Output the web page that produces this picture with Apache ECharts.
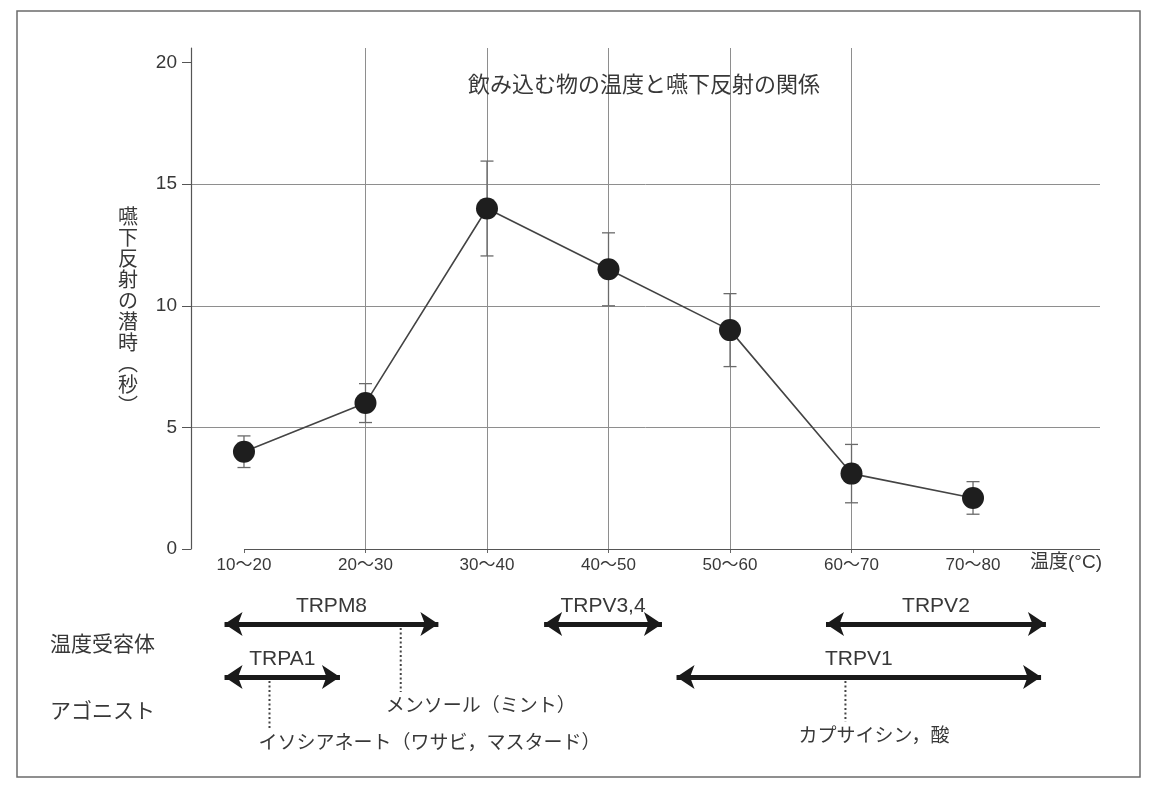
<!DOCTYPE html>
<html>
<head>
<meta charset="utf-8">
<script src="https://cdn.jsdelivr.net/npm/echarts@6/dist/echarts.min.js"></script>
<style>
  html, body { margin: 0; padding: 0; background: #fff; }
  #chart { width: 1154px; height: 786px; }
</style>
</head>
<body>
<div id="chart"></div>
<script>
// Temperature bands of the swallowed liquid (°C) and their mid-points
const tempBands = ['10〜20', '20〜30', '30〜40', '40〜50', '50〜60', '60〜70', '70〜80'];
const bandMid = [15, 25, 35, 45, 55, 65, 75];

// Latency of the swallowing reflex (s): mean and error
const latency = [4.0, 6.0, 14.0, 11.5, 9.0, 3.1, 2.1];
const latencyErr = [0.65, 0.8, 1.95, 1.5, 1.5, 1.2, 0.67];

// Latency axis ticks
const yTicks = [0, 5, 10, 15, 20];

// Thermo-sensitive TRP channels: activation range (°C) and drawing row
const receptorNames = ['TRPM8', 'TRPV3,4', 'TRPV2', 'TRPA1', 'TRPV1'];
const receptorLow = [13.4, 39.7, 62.9, 13.4, 50.6];
const receptorHigh = [31.0, 49.4, 81.0, 22.9, 80.6];
const receptorRow = [0, 0, 0, 1, 1];

// Agonists and the channel each one points to
const agonistNames = ['メンソール（ミント）', 'イソシアネート（ワサビ，マスタード）', 'カプサイシン，酸'];
const agonistTemp = [27.9, 17.1, 64.5];
const agonistReceptor = ['TRPM8', 'TRPA1', 'TRPV1'];

// Placement of the agonist captions (row in the lower panel, px shift of the text start)
const agonistCaptionRow = [2.03, 2.73, 2.59];
const agonistCaptionShift = [-15, -11, -47];

const FONT = '"Liberation Sans", "Noto Sans CJK JP", sans-serif';
const CJK = '"Noto Sans CJK JP", sans-serif';
const INK = '#383838';
const GRID = '#8e8e8e';
const X_MIN = 10.64, X_MAX = 85.45;

const chart = echarts.init(document.getElementById('chart'), null, { renderer: 'canvas' });

const option = {
  backgroundColor: '#ffffff',
  animation: false,
  textStyle: { fontFamily: FONT },
  title: {
    text: '飲み込む物の温度と嚥下反射の関係',
    left: 463, top: 68,
    textStyle: { fontSize: 22, fontWeight: 'normal', color: INK, fontFamily: CJK }
  },
  grid: [
    { left: 191, right: 54, top: 48, bottom: 237 },
    { left: 191, right: 54, top: 597.5, height: 159 }
  ],
  xAxis: [
    {
      type: 'value', gridIndex: 0, min: X_MIN, max: X_MAX,
      axisLine: { show: false },
      axisTick: { show: true, customValues: bandMid, length: 4, lineStyle: { color: '#666' } },
      axisLabel: {
        customValues: bandMid,
        formatter: v => { const i = bandMid.indexOf(v); return i >= 0 ? tempBands[i] : ''; },
        fontSize: 17, color: INK, margin: 8, fontFamily: FONT
      },
      splitLine: { show: true, showMinLine: false, showMaxLine: false, lineStyle: { color: GRID, width: 1 } }
    },
    { type: 'value', gridIndex: 1, min: X_MIN, max: X_MAX, show: false }
  ],
  yAxis: [
    {
      type: 'value', gridIndex: 0, min: 0, max: 20.6, interval: 5,
      axisLine: { show: true, lineStyle: { color: '#555', width: 1.2 } },
      axisTick: { show: true, customValues: yTicks, length: 9, lineStyle: { color: '#555' } },
      axisLabel: { customValues: yTicks, fontSize: 19, color: INK, margin: 14, fontFamily: FONT },
      splitLine: { show: true, showMinLine: false, showMaxLine: false, lineStyle: { color: GRID, width: 1 } }
    },
    { type: 'value', gridIndex: 1, min: 0, max: 3, inverse: true, show: false }
  ],
  graphic: [
    {
      type: 'rect', silent: true, z: -10,
      shape: { x: 17, y: 11, width: 1123, height: 766 },
      style: { fill: 'none', stroke: '#6b6b6b', lineWidth: 1.5 }
    },
    {
      type: 'text', x: 128, y: 206,
      style: {
        text: '嚥\n下\n反\n射\nの\n潜\n時\n︵\n秒\n︶',
        fontSize: 20, lineHeight: 21, fontFamily: CJK, fill: INK,
        align: 'center', verticalAlign: 'top', textAlign: 'center', textVerticalAlign: 'top'
      }
    },
    {
      type: 'text', x: 1030, y: 563,
      style: {
        text: '温度(°C)', fontSize: 19, fontFamily: FONT, fill: INK,
        align: 'left', verticalAlign: 'middle', textAlign: 'left', textVerticalAlign: 'middle'
      }
    },
    {
      type: 'text', x: 50, y: 643,
      style: {
        text: '温度受容体', fontSize: 21, fontFamily: CJK, fill: INK,
        align: 'left', verticalAlign: 'middle', textAlign: 'left', textVerticalAlign: 'middle'
      }
    },
    {
      type: 'text', x: 50, y: 710,
      style: {
        text: 'アゴニスト', fontSize: 21, fontFamily: CJK, fill: INK,
        align: 'left', verticalAlign: 'middle', textAlign: 'left', textVerticalAlign: 'middle'
      }
    }
  ],
  series: [
    // error bars
    {
      type: 'custom', xAxisIndex: 0, yAxisIndex: 0, z: 2, silent: true,
      data: bandMid.map((t, i) => [t, latency[i] - latencyErr[i], latency[i] + latencyErr[i]]),
      renderItem: (params, api) => {
        const lo = api.coord([api.value(0), api.value(1)]);
        const hi = api.coord([api.value(0), api.value(2)]);
        const w = 6.5;
        const st = { stroke: '#6a6a6a', lineWidth: 1.3, fill: null };
        return {
          type: 'group',
          children: [
            { type: 'line', shape: { x1: lo[0], y1: lo[1], x2: hi[0], y2: hi[1] }, style: st },
            { type: 'line', shape: { x1: lo[0] - w, y1: lo[1], x2: lo[0] + w, y2: lo[1] }, style: st },
            { type: 'line', shape: { x1: hi[0] - w, y1: hi[1], x2: hi[0] + w, y2: hi[1] }, style: st }
          ]
        };
      }
    },
    // mean latency
    {
      type: 'line', xAxisIndex: 0, yAxisIndex: 0, z: 3,
      data: bandMid.map((t, i) => [t, latency[i]]),
      symbol: 'circle', symbolSize: 22,
      itemStyle: { color: '#1e1e1e' },
      lineStyle: { color: '#444', width: 1.6 },
      markLine: {
        silent: true, symbol: ['none', 'none'], label: { show: false },
        lineStyle: { color: '#555', width: 1.2, type: 'solid' },
        data: [[{ coord: [bandMid[0], 0] }, { coord: [X_MAX, 0] }]]
      }
    },
    // receptor activation ranges
    {
      type: 'lines', coordinateSystem: 'cartesian2d', xAxisIndex: 1, yAxisIndex: 1, z: 4,
      symbol: ['arrow', 'arrow'], symbolSize: 18,
      lineStyle: { color: '#1a1a1a', width: 5, opacity: 1 },
      label: { show: true, position: 'middle', formatter: '{b}', fontSize: 21, color: INK, distance: 7, fontFamily: FONT },
      data: receptorNames.map((n, i) => ({
        name: n,
        coords: [[receptorLow[i], receptorRow[i] + 0.5], [receptorHigh[i], receptorRow[i] + 0.5]]
      }))
    },
    // agonist pointers and captions
    {
      type: 'custom', xAxisIndex: 1, yAxisIndex: 1, z: 4, silent: true,
      data: agonistNames.map((n, i) => [agonistTemp[i], receptorRow[receptorNames.indexOf(agonistReceptor[i])] + 0.5, agonistCaptionRow[i]]),
      renderItem: (params, api) => {
        const i = params.dataIndex;
        const top = api.coord([api.value(0), api.value(1)]);
        const cap = api.coord([api.value(0), api.value(2)]);
        return {
          type: 'group',
          children: [
            {
              type: 'line',
              shape: { x1: top[0], y1: top[1] + 4, x2: top[0], y2: cap[1] - 13 },
              style: { stroke: '#444', lineWidth: 2, lineDash: [2, 2.5], fill: null }
            },
            {
              type: 'text',
              style: {
                text: agonistNames[i], x: top[0] + agonistCaptionShift[i], y: cap[1],
                fontSize: 19, fontFamily: CJK, fill: INK,
                align: 'left', verticalAlign: 'middle', textAlign: 'left', textVerticalAlign: 'middle'
              }
            }
          ]
        };
      }
    }
  ]
};

chart.setOption(option);
</script>
</body>
</html>
